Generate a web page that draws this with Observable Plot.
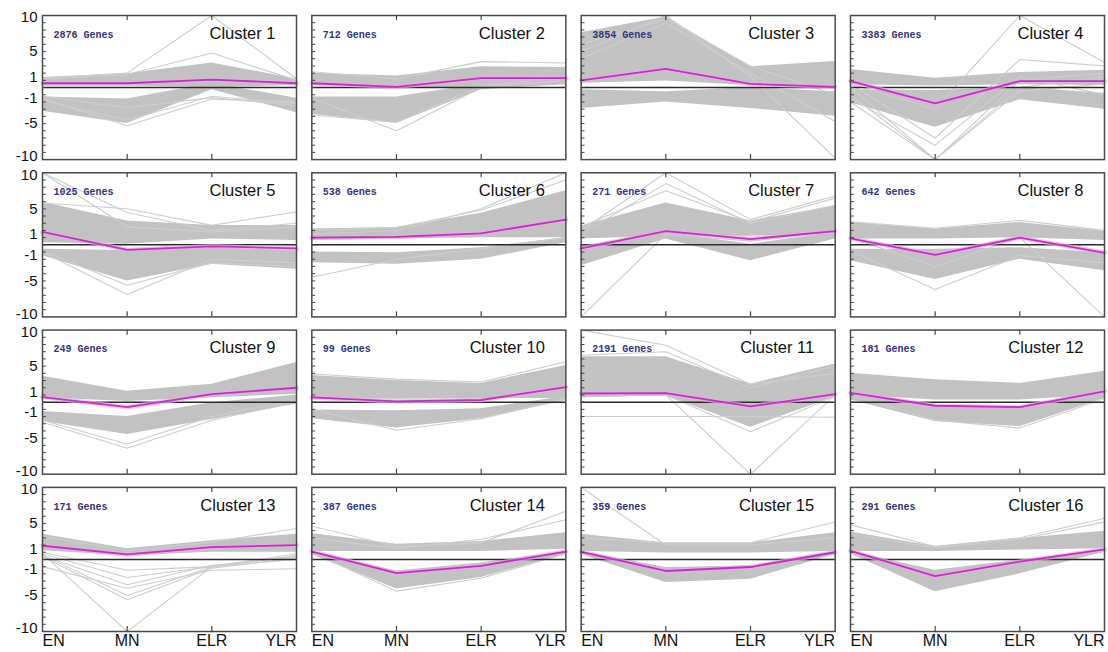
<!DOCTYPE html>
<html>
<head>
<meta charset="utf-8">
<script src="https://cdn.jsdelivr.net/npm/d3@7"></script>
<script src="https://cdn.jsdelivr.net/npm/@observablehq/plot@0.6"></script>
<style>
  html, body { margin: 0; padding: 0; background: #fff; }
  #chart { width: 1108px; height: 652px; }
</style>
</head>
<body>
<div id="chart"></div>
<script>
// ---- data ----
const stages = ["EN", "MN", "ELR", "YLR"];
const clusterIds = [1, 2, 3, 4, 5, 6, 7, 8, 9, 10, 11, 12, 13, 14, 15, 16];
const geneCounts = [2876, 712, 3854, 3383, 1025, 538, 271, 642, 249, 99, 2191, 181, 171, 387, 359, 291];
const yTickLabels = [10, 5, 1, -1, -5, -10];
const yMinorTicks = [-9, -8, -7, -6, -5, -4, -3, -2, -1, 0, 1, 2, 3, 4, 5, 6, 7, 8, 9];

// mean (magenta) profile per cluster: EN, MN, ELR, YLR
const meanProfiles = [
  [0.6, 0.6, 1.1, 0.6],
  [0.6, 0.1, 1.3, 1.3],
  [1.0, 2.6, 0.5, 0.1],
  [0.9, -2.2, 0.9, 0.9],
  [1.8, -0.7, -0.2, -0.5],
  [1.0, 1.1, 1.6, 3.5],
  [-0.5, 1.9, 0.8, 1.9],
  [0.9, -1.4, 1.0, -1.1],
  [0.7, -0.7, 1.1, 2.0],
  [0.65, 0.1, 0.3, 2.1],
  [1.2, 1.25, -0.6, 1.1],
  [1.3, -0.5, -0.7, 1.5],
  [1.9, 0.7, 1.7, 2.0],
  [1.1, -1.9, -0.9, 1.1],
  [1.05, -1.6, -1.05, 1.0],
  [1.2, -2.3, -0.3, 1.4]
];

// dense bundle of gene profiles above / below the mean (low and high edge)
const upperLow = [
  [0.2, 0.2, 0.0, 0.3], [0.3, 0.0, 0.0, 0.6], [0.6, 0.9, 0.3, 0.1], [0.4, 0.2, 0.4, 0.3],
  [0.3, 0.1, 0.8, 0.6], [0.6, 0.8, 1.0, 1.0], [0.8, 1.2, 1.2, 1.5], [0.8, 0.8, 1.0, 0.6],
  [0.6, 0.1, 0.6, 1.1], [0.5, 0.4, 0.5, 0.5], [0.6, 0.9, 0.0, 0.7], [1.0, 0.3, 0.3, 1.0],
  [1.2, 0.5, 1.0, 1.0], [1.1, 1.1, 1.1, 1.4], [1.1, 0.9, 0.9, 1.1], [1.1, 1.1, 1.3, 1.5]
];
const upperHigh = [
  [1.4, 1.9, 3.4, 1.2], [2.0, 1.6, 2.9, 2.8], [7.6, 9.8, 2.9, 3.6], [2.5, 1.3, 2.1, 2.4],
  [5.9, 3.3, 2.7, 2.7], [2.2, 2.4, 4.4, 7.5], [2.6, 5.8, 3.3, 5.4], [3.1, 2.2, 3.1, 1.9],
  [3.6, 1.5, 2.5, 5.5], [3.7, 3.0, 2.6, 5.1], [6.3, 6.3, 2.5, 5.3], [4.0, 3.1, 2.6, 4.3],
  [3.5, 1.5, 2.6, 3.5], [3.6, 2.1, 2.5, 3.7], [3.5, 2.3, 2.3, 3.7], [3.8, 1.8, 2.9, 3.9]
];
const lowerLow = [
  [-3.3, -5.0, -0.3, -3.5], [-3.7, -5.0, -0.3, 0.4], [-2.9, -2.0, -2.9, -4.0], [-2.1, -5.5, -1.7, -3.0],
  [-1.5, -5.0, -2.7, -3.4], [-2.5, -2.7, -2.0, 0.3], [-2.9, 0.8, -2.2, 0.8], [-2.2, -4.8, -2.0, -3.6],
  [-2.7, -4.5, -2.4, -0.3], [-2.3, -3.6, -2.3, 0.2], [0.6, 0.9, -3.5, 0.7], [0.3, -2.7, -3.4, 0.5],
  null, [0.7, -4.1, -2.5, 0.7], [0.7, -3.2, -2.75, 0.7], [0.8, -4.5, -2.0, 1.0]
];
const lowerHigh = [
  [-1.3, -1.6, 0.6, -1.5], [-1.3, -1.3, 0.5, 1.0], [-0.3, -0.6, 0.0, -0.6], [-0.3, -0.4, 0.0, -0.8],
  [-0.6, -0.8, -0.4, -0.8], [-1.0, -1.1, -0.4, 1.0], [-0.2, 1.7, 0.1, 1.7], [-0.6, -0.6, -0.4, -1.1],
  [-1.3, -2.0, -0.1, 1.0], [-1.1, -1.2, -0.9, 0.8], [1.0, 1.2, 0.0, 1.0], [1.0, -0.4, -0.7, 1.5],
  null, [1.1, -1.6, -0.5, 1.1], [1.1, -1.1, -0.9, 1.1], [1.1, -1.5, -0.1, 1.3]
];

// individual outlying gene profiles: [cluster, EN, MN, ELR, YLR]
const outliers = [
  [1, 1.3, 2.0, 10, 1.2], [1, 1.2, 1.8, 4.8, 1.0], [1, -1.8, -4.5, -1.2, -2.2], [1, -1.5, -5.3, -1.6, -2.0], [1, -1.2, -2.8, -1.4, -2.5],
  [2, -1.5, -6.0, 0.0, 1.0], [2, 2.2, 1.2, 3.6, 3.4], [2, -3.8, -4.8, 0.2, 1.5],
  [3, 5.0, 10, 1.5, -9.8], [3, 4.0, 9.0, 2.0, -4.7], [3, 6.0, 9.5, 3.0, -1.0],
  [4, 0.0, -10, 1.0, 2.0], [4, -1.0, -10, 0.0, 1.5], [4, -2.0, -10, -0.5, 0.5], [4, 0.5, -7.0, 3.9, 3.0], [4, 0.5, -3.0, 10, 3.5], [4, -1.5, -8.0, 1.5, -1.0],
  [5, 10, 2.5, 1.8, 2.5], [5, 5.8, 5.0, 2.7, 4.6], [5, 10, 4.5, 2.0, 3.0], [5, -1.0, -6.9, -2.0, -2.5], [5, -0.8, -5.6, -2.5, -3.0],
  [6, -4.5, -2.0, -0.5, 1.0], [6, 1.5, 2.0, 5.0, 10], [6, 2.0, 2.4, 4.8, 9.0],
  [7, 2.0, 10, 3.5, 6.8], [7, -10, 1.5, 0.5, 2.0], [7, 1.5, 8.5, 3.0, 5.5], [7, 2.5, 7.5, 3.2, 6.5],
  [8, -0.8, -6.2, -1.5, -2.5], [8, 1.0, -3.0, 1.0, -10], [8, 3.2, 2.3, 3.4, 2.0],
  [9, -2.8, -6.4, -2.5, 0.0], [9, -2.5, -5.8, -2.0, 0.3],
  [10, -1.0, -3.9, -2.3, 0.5], [10, 3.9, 3.2, 2.8, 5.6],
  [11, 10, 7.9, 2.5, 4.0], [11, -2.0, -2.0, -2.0, -2.1], [11, 1.0, 1.0, -10, 1.0], [11, 1.2, 1.0, -4.1, 0.8], [11, 6.5, 7.0, 2.0, 5.0],
  [12, 1.0, -2.5, -3.6, 0.5],
  [13, 1.0, -1.5, -1.0, 0.8], [13, 0.8, -2.5, -1.0, 0.5], [13, 0.5, -3.5, -0.8, 0.3], [13, 0.6, -5.0, -1.0, 0.5],
  [13, 0.4, -5.6, -1.2, 0.2], [13, 0.8, -10, -1.0, 0.0], [13, -1.0, -4.0, -1.5, -1.3], [13, 3.2, 1.2, 2.4, 4.3],
  [14, 4.6, 1.8, 2.3, 6.7], [14, 3.0, 1.5, 2.8, 5.5], [14, 1.0, -4.4, -2.6, 0.8],
  [15, 10, 2.0, 2.0, 3.0], [15, 3.0, 2.3, 2.3, 5.2],
  [16, 4.8, 1.8, 3.0, 5.7], [16, 3.5, 1.6, 2.8, 5.2]
];

// ---- derived tables ----
const col = c => (c - 1) % 4;
const row = c => Math.floor((c - 1) / 4);

const bandRows = clusterIds.flatMap((c, i) =>
  [["U", upperLow[i], upperHigh[i]], ["L", lowerLow[i], lowerHigh[i]]]
    .filter(b => b[1])
    .flatMap(([k, lo, hi]) => stages.map((s, j) => ({id: c + k, c, j, lo: lo[j], hi: hi[j]})))
);
const meanRows = clusterIds.flatMap((c, i) => stages.map((s, j) => ({c, j, v: meanProfiles[i][j]})));
const outlierRows = outliers.flatMap((o, k) => stages.map((s, j) => ({id: k, c: o[0], j, v: o[j + 1]})));
const clusterRows = clusterIds.map((c, i) => ({c, n: geneCounts[i]}));
const yLabelRows = [0, 1, 2, 3].flatMap(r => yTickLabels.map(v => ({r, v})));
const xLabelRows = [0, 1, 2, 3].flatMap(k => stages.map((s, j) => ({k, j, s})));

const fxC = d => col(d.c), fyC = d => row(d.c);

const yLab = (filter, dy) => Plot.text(yLabelRows.filter(filter), {
  fx: () => 0, fy: "r", frameAnchor: "left", y: "v", text: d => String(d.v),
  textAnchor: "end", lineAnchor: "middle", dx: -5, dy, fontSize: 15, fill: "#111"
});
const xLab = (filter, anchor) => Plot.text(xLabelRows.filter(filter), {
  fx: "k", fy: () => 3, frameAnchor: "bottom", x: "j", text: "s",
  textAnchor: anchor, lineAnchor: "middle", dy: 9, fontSize: 16, fill: "#111"
});

const chart = Plot.plot({
  width: 1108,
  height: 652,
  marginLeft: 42,
  marginRight: 4,
  marginTop: 15,
  marginBottom: 21,
  style: {fontFamily: "'Liberation Sans', Arial, sans-serif", background: "#fff"},
  fx: {domain: [0, 1, 2, 3], paddingInner: 0.0569, paddingOuter: 0, round: false, axis: null},
  fy: {domain: [0, 1, 2, 3], paddingInner: 0.0839, paddingOuter: 0, round: false, axis: null},
  x: {domain: [0, 3], axis: null},
  y: {domain: [-10, 10], axis: null},
  marks: [
    Plot.areaY(bandRows, {fx: fxC, fy: fyC, x: "j", y1: "lo", y2: "hi", z: "id", fill: "#c2c2c2", curve: "linear"}),
    Plot.line(outlierRows, {fx: fxC, fy: fyC, x: "j", y: "v", z: "id", stroke: "#cdcdcd", strokeWidth: 1.1, clip: true}),
    Plot.ruleY([0], {stroke: "#2a2a2a", strokeWidth: 1.5}),
    Plot.line(meanRows, {fx: fxC, fy: fyC, x: "j", y: "v", z: "c", stroke: "#f0a6ee", strokeWidth: 4.5, strokeOpacity: 0.7}),
    Plot.line(meanRows, {fx: fxC, fy: fyC, x: "j", y: "v", z: "c", stroke: "#bb35bb", strokeWidth: 1.8}),
    Plot.ruleY(yMinorTicks, {x1: 0, x2: 0.045, stroke: "#444", strokeWidth: 1}),
    Plot.ruleX([1, 2], {y1: 10, y2: 9.3, stroke: "#444", strokeWidth: 1.2}),
    Plot.ruleX([1, 2], {y1: -10, y2: -9.3, stroke: "#444", strokeWidth: 1.2}),
    Plot.frame({stroke: "#4a4a4a", strokeWidth: 1.5}),
    Plot.text(clusterRows, {
      fx: fxC, fy: fyC, frameAnchor: "top-left", text: d => `${d.n} Genes`,
      textAnchor: "start", lineAnchor: "middle", dx: 11, dy: 19,
      fontFamily: "'Liberation Mono', 'DejaVu Sans Mono', monospace", fontWeight: "bold", fontSize: 10, fill: "#34347e"
    }),
    Plot.text(clusterRows, {
      fx: fxC, fy: fyC, frameAnchor: "top-right", text: d => `Cluster ${d.c}`,
      textAnchor: "end", lineAnchor: "middle", dx: -21, dy: 18, fontSize: 16.5, fill: "#111"
    }),
    yLab(d => Math.abs(d.v) === 5, 0),
    yLab(d => d.v === 1, -3),
    yLab(d => d.v === -1, 3),
    yLab(d => d.v === 10, 2),
    yLab(d => d.v === -10, -3),
    xLab(d => d.j === 0, "start"),
    xLab(d => d.j === 1 || d.j === 2, "middle"),
    xLab(d => d.j === 3, "end")
  ]
});
document.getElementById("chart").appendChild(chart);
</script>
</body>
</html>
